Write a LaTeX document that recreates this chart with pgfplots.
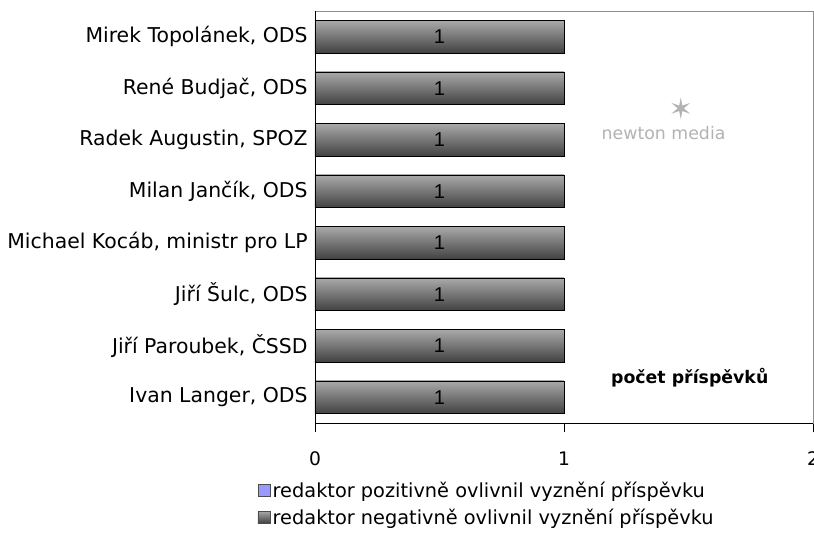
\documentclass[border=0pt]{standalone}
\usepackage{fontspec}
\setmainfont{DejaVu Sans}
\newfontfamily\arialfont{Liberation Sans}
\usepackage{pgfplots}
\pgfplotsset{compat=1.18}
\definecolor{posblue}{RGB}{153,153,255}
\definecolor{bartop}{RGB}{170,170,170}
\definecolor{barbot}{RGB}{65,65,65}
\definecolor{framegray}{RGB}{140,140,140}

\newcommand{\lbl}{\fontsize{14pt}{16pt}\selectfont}

\begin{document}
\begin{tikzpicture}
\begin{axis}[
    scale only axis,
    width=373.5pt, height=309pt,
    xmin=0, xmax=2,
    ymin=-0.5, ymax=7.5,
    xtick={0,1,2},
    ytick={0,...,7},
    yticklabels={{Ivan Langer, ODS},{Jiří Paroubek, ČSSD},{Jiří Šulc, ODS},{Michael Kocáb, ministr pro LP},{Milan Jančík, ODS},{Radek Augustin, SPOZ},{René Budjač, ODS},{Mirek Topolánek, ODS}},
    ytick style={draw=none},
    xtick pos=bottom,
    tick align=outside,
    major tick length=7pt,
    xtick style={black, thin},
    axis line style={framegray},
    /pgf/number format/assume math mode=true,
    font=\lbl,
    xticklabel style={yshift=-11pt},
    yticklabel style={xshift=5pt, font=\fontsize{15.3pt}{17pt}\selectfont},
    bar width=0.64,
    legend style={at={(-0.124,-0.13)}, anchor=north west, draw=none, fill=none,
        row sep=3pt, font=\fontsize{14.5pt}{17pt}\selectfont},
    legend cell align=left,
    every axis legend/.append style={legend image code/.code={
        \draw[#1, draw=black!70] (0pt,-4pt) rectangle (9pt,5pt);}},
    after end axis/.code={
        \draw[black] (rel axis cs:0,0) -- (rel axis cs:0,1);
        \draw[black] (rel axis cs:0,0) -- (rel axis cs:1,0);
    },
    bars/.style={xbar, draw=black, top color=bartop, bottom color=barbot, forget plot},
]
\addlegendimage{fill=posblue}
\addlegendentry{redaktor pozitivně ovlivnil vyznění příspěvku}
\addlegendimage{top color=bartop, bottom color=barbot}
\addlegendentry{redaktor negativně ovlivnil vyznění příspěvku}
\addplot[bars] coordinates {(1,0)};
\addplot[bars] coordinates {(1,1)};
\addplot[bars] coordinates {(1,2)};
\addplot[bars] coordinates {(1,3)};
\addplot[bars] coordinates {(1,4)};
\addplot[bars] coordinates {(1,5)};
\addplot[bars] coordinates {(1,6)};
\addplot[bars] coordinates {(1,7)};
\addplot[only marks, mark=none, point meta=explicit symbolic,
    nodes near coords, every node near coord/.append style={anchor=center, text=black,
        font=\arialfont\fontsize{15pt}{17pt}\selectfont},
    forget plot]
    coordinates {(0.5,0) [1] (0.5,1) [1] (0.5,2) [1] (0.5,3) [1]
                 (0.5,4) [1] (0.5,5) [1] (0.5,6) [1] (0.5,7) [1]};
\node[font=\fontsize{13pt}{15pt}\selectfont\bfseries] at (axis cs:1.505,0.39) {počet příspěvků};
\node[text=black!30, font=\fontsize{13pt}{15pt}\selectfont] at (axis cs:1.40,5.14) {newton media};
\node[text=black!30, font=\fontsize{22pt}{22pt}\selectfont\bfseries] at (axis cs:1.47,5.6) {\char"2736};
\end{axis}
\pgfresetboundingbox
\useasboundingbox (-236.25pt,-84pt) rectangle (374.25pt,317.25pt);
\end{tikzpicture}
\end{document}
